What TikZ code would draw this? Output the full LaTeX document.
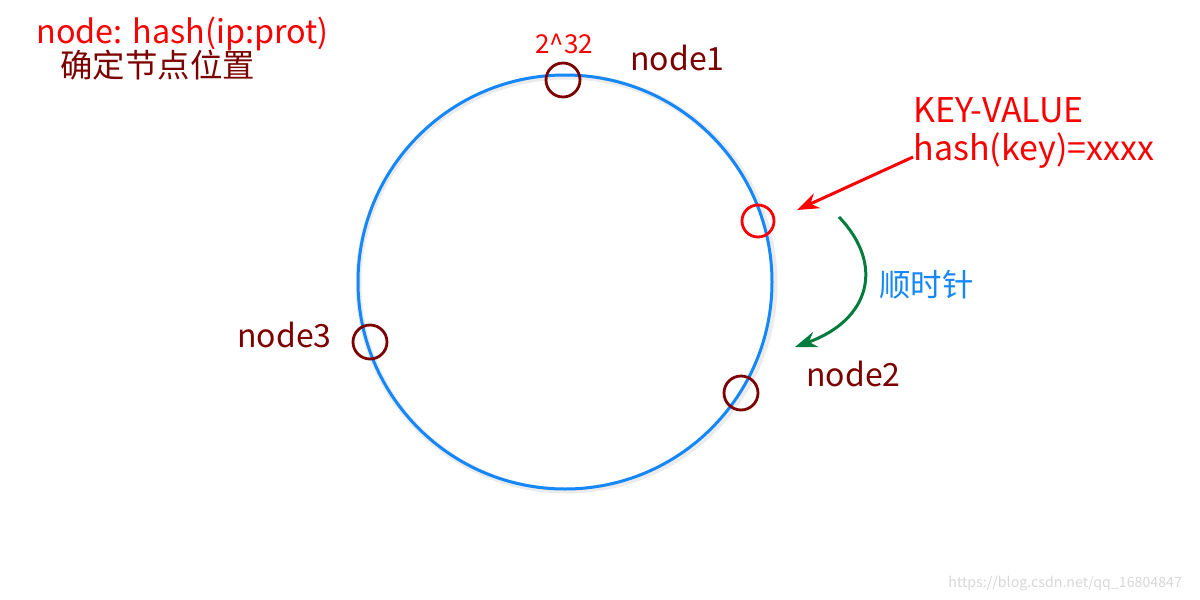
\documentclass[tikz,border=0pt]{standalone}
\usepackage{fontspec}
\setmainfont{Noto Sans CJK SC}
\usetikzlibrary{arrows.meta}
\definecolor{ringblue}{RGB}{20,135,250}
\definecolor{darkred}{RGB}{125,0,0}
\definecolor{pureRed}{RGB}{250,0,0}
\definecolor{arrowgreen}{RGB}{0,125,60}
\definecolor{wmgray}{RGB}{215,215,215}
\tikzset{
  lbl/.style={inner sep=0pt, anchor=base west},
  marker/.style={circle, draw=darkred, line width=1.4pt, minimum size=17pt, inner sep=0pt},
  redmarker/.style={circle, draw=pureRed, line width=1.4pt, minimum size=16pt, inner sep=0pt},
  nodelbl/.style={lbl, text=darkred, font=\fontsize{16pt}{18pt}\selectfont},
}
\begin{document}
\begin{tikzpicture}[x=0.5pt,y=-0.5pt]
\useasboundingbox (0,0) rectangle (1200,600);
% shadow of ring
\draw[black!8, line width=3pt] (566.5,283.5) ellipse [x radius=208, y radius=207];
\node[circle, minimum size=207pt, inner sep=0pt, draw=ringblue, line width=1.5pt] (ring) at (565,282) {};
% markers
\node[marker] (n1) at (563,80) {};
\node[redmarker] (kv) at (758,221) {};
\node[marker] (n2) at (741,393) {};
\node[marker] (n3) at (370,342) {};
% texts
\node[lbl, text=pureRed, font=\fontsize{16.2pt}{18pt}\selectfont] (t1) at (36,43) {node: hash(ip:prot)};
\node[lbl, text=darkred, font=\fontsize{16.2pt}{18pt}\selectfont] (t2) at (60,77) {确定节点位置};
\node[lbl, text=pureRed, font=\fontsize{13pt}{15pt}\selectfont] (pw) at (535,53) {2\^{}32};
\node[nodelbl] (l1) at (630,70) {node1};
\node[nodelbl] (l2) at (806,386) {node2};
\node[nodelbl] (l3) at (237,347) {node3};
\node[lbl, text=pureRed, font=\fontsize{17pt}{19pt}\selectfont] (kvt) at (913,122) {KEY-VALUE};
\node[lbl, text=pureRed, font=\fontsize{17pt}{19pt}\selectfont] (hk) at (913,160) {hash(key)=xxxx};
\node[lbl, text=ringblue, font=\fontsize{15.7pt}{17pt}\selectfont] (cw) at (879,296) {顺时针};
\node[lbl, text=wmgray, font=\fontsize{7.1pt}{9pt}\selectfont] (wm) at (948,587) {https://blog.csdn.net/qq\_16804847};
% arrows
\coordinate (ra) at (913,157);
\coordinate (rb) at (797,210);
\draw[pureRed, line width=1.5pt, -{Stealth[length=11pt,width=8pt]}] (ra) -- (rb);
\coordinate (ga) at (839,217);
\coordinate (gb) at (795,347);
\draw[arrowgreen, line width=1.5pt, -{Stealth[length=11pt,width=8pt]}] (ga) .. controls (885,265) and (870,320) .. (gb);
\end{tikzpicture}
\end{document}
